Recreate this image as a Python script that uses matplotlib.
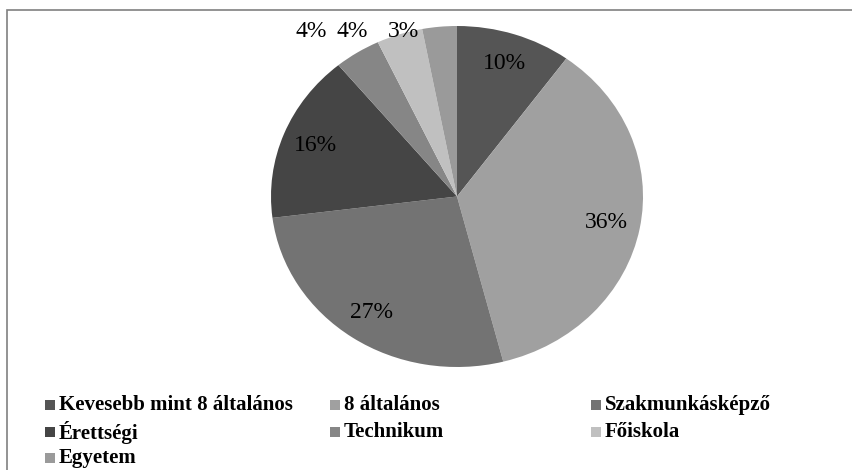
import matplotlib
matplotlib.use("Agg")
import matplotlib.pyplot as plt
from matplotlib.patches import Rectangle

plt.rcParams["font.family"] = ["Liberation Serif", "DejaVu Serif"]

# Végzettség szerinti megoszlás (%)
categories = ["Kevesebb mint 8 általános", "8 általános", "Szakmunkásképző",
              "Érettségi", "Technikum", "Főiskola", "Egyetem"]
shares = [10, 36, 27, 16, 4, 4, 3]
colors = ["#555555", "#a0a0a0", "#737373", "#454545", "#868686", "#c0c0c0", "#9a9a9a"]

# slices too thin for an inside label get one above the pie instead
outside_pos = {4: (-0.785, 0.965), 5: (-0.565, 0.965), 6: (-0.29, 0.965)}

W, H = 852, 470
fig = plt.figure(figsize=(W / 100, H / 100), dpi=100)

# outer frame (runs off the right and bottom edge)
fig.patches.append(Rectangle((7 / W, -0.1), 1.2, (H - 10) / H + 0.1,
                             transform=fig.transFigure, fill=False,
                             edgecolor="#808080", linewidth=1.2))

ax = fig.add_axes([271 / W, 103 / H, 372 / W, 341 / H])
wedges, texts, autotexts = ax.pie(
    shares, colors=colors, startangle=90, counterclock=False,
    autopct="%1.0f%%", pctdistance=0.82,
    wedgeprops={"linewidth": 0},
    textprops={"fontsize": 17, "color": "black",
               "family": ["Liberation Serif", "DejaVu Serif"]},
)
ax.set_aspect("auto")
ax.set_xlim(-1, 1)
ax.set_ylim(-1, 1)
ax.axis("off")

for i, pos in outside_pos.items():
    autotexts[i].set_position(pos)
    autotexts[i].set_va("center")

# legend laid out in a fixed 3-column grid, filled row by row
col_x = [45, 330, 591]
row_y = [405, 432, 458]
sq = 10
for i, (name, c) in enumerate(zip(categories, colors)):
    r, k = divmod(i, 3)
    x, y = col_x[k], row_y[r]
    fig.patches.append(Rectangle((x / W, (H - y - sq / 2) / H), sq / W, sq / H,
                                 transform=fig.transFigure, facecolor=c,
                                 edgecolor="none"))
    fig.text((x + sq + 4) / W, (H - y) / H, name, fontsize=15,
             fontweight="bold", va="center", ha="left",
             family=["Liberation Serif", "DejaVu Serif"])

fig.savefig("out.png", dpi=100)
